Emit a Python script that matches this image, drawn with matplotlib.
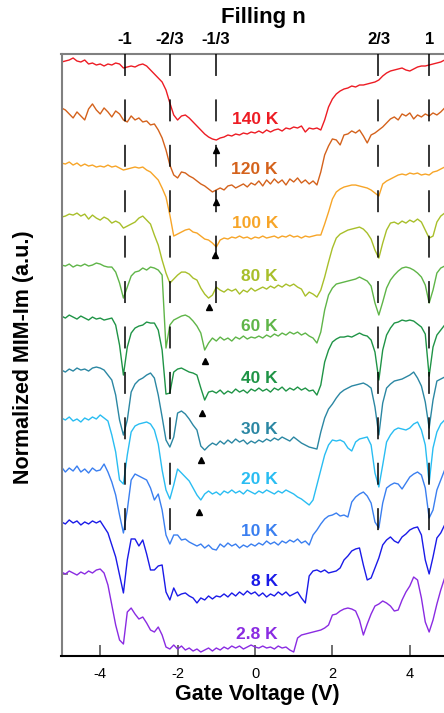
import numpy as np
import matplotlib.pyplot as plt

plt.rcParams['font.family'] = ['Liberation Sans', 'DejaVu Sans']
plt.rcParams['lines.scale_dashes'] = False

# gate voltage sampling (V)
gate_v = np.round(np.arange(-5.0, 4.95, 0.1), 1)

temps = ['140 K', '120 K', '100 K', '80 K', '60 K', '40 K', '30 K', '20 K', '10 K', '8 K', '2.8 K']
colors = ['#ed1c24', '#d4621c', '#f7a528', '#a8bf2a', '#5fb548', '#1f9446',
          '#2b87a3', '#29bdf2', '#3a7ff0', '#1a1ae8', '#8a2be2']

# MIM-Im signal (a.u., relative to the charge-neutral plateau of each trace)
sig_140 = [71, 72, 73, 75, 72, 71, 73, 69, 70, 68,
           69, 67, 69, 68, 70, 69, 65, 66, 67, 66,
           68, 69, 67, 63, 59, 55, 51, 43, 30, 18,
           13, 17, 18, 15, 11, 7, 3, -1, -4, -6,
           -7, -5, -4, -2, -3, -1, -2, 0, -1, 1,
           0, 2, 0, 3, 1, 3, 4, 2, 5, 4,
           6, 5, 7, 1, 5, 4, 5, 3, 13, 26,
           34, 39, 42, 44, 45, 47, 46, 48, 48, 49,
           50, 51, 53, 57, 60, 62, 63, 64, 65, 63,
           62, 64, 66, 67, 67, 68, 69, 70, 71, 73]
sig_120 = [75, 73, 69, 65, 71, 67, 63, 74, 79, 73,
           69, 75, 71, 66, 72, 69, 63, 61, 67, 63,
           65, 61, 62, 58, 59, 53, 45, 33, 18, 8,
           5, 11, 10, 7, 5, 2, -1, -3, -6, -9,
           -7, -5, -7, -3, -2, -5, -3, -1, -4, 0,
           -2, 2, -3, 3, -1, 4, 0, 3, -2, 4,
           1, 5, 0, 3, -1, 2, -2, 11, 28, 37,
           44, 43, 38, 48, 49, 52, 50, 53, 47, 40,
           48, 50, 53, 56, 60, 64, 66, 63, 69, 67,
           70, 64, 68, 66, 69, 67, 70, 68, 71, 75]
sig_100 = [74, 73, 75, 72, 74, 71, 73, 71, 72, 70,
           71, 70, 72, 70, 71, 69, 67, 68, 69, 70,
           69, 70, 67, 65, 61, 57, 49, 40, 22, 1,
           3, 5, 7, 8, 5, 4, 1, -2, -3, -6,
           -10, -3, -1, -2, 0, -1, 1, -1, 0, -2,
           0, -1, 1, -1, 0, 1, -1, 1, 0, 2,
           0, 1, -1, 1, 0, 1, 2, 2, 13, 25,
           38, 45, 48, 50, 51, 52, 52, 51, 50, 49,
           47, 44, 41, 53, 56, 58, 60, 62, 63, 62,
           64, 63, 64, 62, 63, 62, 65, 66, 68, 70]
sig_80 = [73, 74, 76, 75, 77, 74, 76, 71, 75, 72,
          70, 73, 71, 67, 69, 67, 62, 64, 66, 68,
          72, 74, 70, 66, 55, 45, 30, 17, 7, 11,
          15, 18, 18, 16, 12, 10, 2, -4, -8, -5,
          3, 0, -2, 1, -1, 1, -4, 0, -2, 2,
          -1, 1, 3, 1, 4, 2, 5, 3, 6, 4,
          6, 3, 1, -6, -2, -4, -7, 0, 13, 28,
          42, 52, 56, 58, 60, 61, 62, 63, 61, 57,
          51, 40, 32, 47, 60, 67, 68, 66, 69, 67,
          70, 68, 71, 68, 60, 52, 54, 68, 74, 77]
sig_60 = [75, 74, 76, 73, 75, 74, 76, 74, 75, 77,
          76, 74, 73, 73, 68, 57, 42, 53, 64, 68,
          69, 72, 70, 73, 72, 70, 65, -8, 15, 20,
          22, 24, 25, 23, 19, 14, 7, -10, -3, 2,
          -1, 3, 0, 2, -1, 3, 1, 4, 1, 3,
          2, 4, 2, 5, 3, 6, 4, 7, 5, 8,
          6, 8, 5, 7, 4, 2, -3, 8, 30, 45,
          52, 56, 57, 58, 59, 60, 61, 63, 61, 59,
          54, 37, 25, 38, 52, 60, 65, 69, 72, 73,
          72, 70, 67, 63, 55, 37, 50, 67, 72, 74]
sig_40 = [76, 74, 77, 75, 73, 76, 74, 72, 75, 73,
          74, 72, 73, 74, 67, 47, 17, 45, 59, 64,
          66, 67, 70, 69, 69, 62, 42, -2, -1, 20,
          23, 24, 22, 20, 19, 17, 4, -8, 0, 1,
          -1, 2, -2, 1, -1, 3, 0, 2, -1, 3,
          1, 4, 1, 3, 0, 4, 2, 5, 1, 4,
          2, 5, 2, 4, 1, 2, -3, 7, 30, 42,
          50, 53, 55, 55, 56, 55, 57, 59, 57, 56,
          52, 40, 12, 42, 57, 64, 69, 70, 72, 71,
          72, 71, 68, 65, 58, 16, 45, 57, 62, 67]
sig_30 = [73, 71, 74, 72, 75, 73, 74, 72, 75, 76,
          75, 73, 68, 63, 48, 23, 8, 23, 51, 59,
          63, 65, 68, 70, 65, 48, 26, 3, -4, 6,
          30, 32, 29, 24, 18, 13, -3, -7, -3, 0,
          -2, 2, -1, 3, 0, 4, 1, 3, -1, 2,
          0, 3, 1, 4, 2, 5, 3, 6, 4, 2,
          6, 3, 0, -2, -4, -5, -6, 11, 25, 34,
          39, 45, 50, 53, 55, 57, 58, 59, 60, 58,
          55, 36, 8, 40, 55, 59, 62, 63, 64, 66,
          68, 71, 65, 57, 41, 15, 43, 62, 64, 66]
sig_20 = [75, 73, 76, 72, 74, 71, 75, 73, 76, 74,
          78, 75, 72, 58, 41, 13, 9, 38, 61, 67,
          69, 70, 71, 69, 63, 49, 23, 3, -6, 8,
          24, 20, 16, 12, 5, -2, -7, -1, 2, -1,
          1, -2, 2, 0, 3, 0, 2, -1, 3, 1,
          -1, 2, 0, 3, 1, -1, 2, 0, 3, 1,
          -1, -4, -6, -9, -12, -7, 8, 23, 38, 48,
          53, 52, 53, 51, 45, 42, 51, 54, 55, 56,
          48, 20, 6, 28, 51, 58, 63, 65, 64, 63,
          65, 69, 71, 63, 48, 10, 45, 61, 69, 73]
sig_10 = [78, 73, 77, 74, 79, 73, 76, 72, 77, 74,
          75, 81, 73, 63, 50, 30, 12, 35, 65, 71,
          69, 67, 65, 57, 45, 51, 35, 10, 1, 10,
          10, 5, 6, 3, 1, -1, 1, -3, 0, -4,
          -5, 1, -2, 2, -1, 1, -3, 0, -2, 1,
          -1, 2, 0, 4, 1, 3, 0, 4, 2, 5,
          3, 6, 2, 4, 0, 10, 15, 21, 26, 29,
          30, 32, 29, 30, 28, 43, 48, 51, 53, 49,
          42, 23, 17, 42, 57, 60, 62, 61, 56, 62,
          68, 71, 73, 70, 57, 27, 35, 55, 65, 75]
sig_8 = [73, 71, 75, 72, 74, 70, 73, 71, 74, 72,
         74, 68, 62, 50, 38, 20, 2, 35, 56, 56,
         49, 55, 41, 25, 25, 29, 30, 3, -5, 7,
         -1, 1, 2, -1, -3, -8, -3, -5, -1, -4,
         -1, -2, 1, -2, 2, -1, 3, 0, 4, 1,
         3, -1, 2, -2, 1, -1, 3, 0, 3, -1,
         1, 3, -3, -8, 19, 24, 25, 23, 25, 22,
         23, 24, 27, 35, 39, 44, 46, 47, 30, 15,
         17, 27, 37, 50, 55, 58, 54, 52, 58, 61,
         65, 67, 68, 60, 35, 21, 38, 57, 62, 70]
sig_2p8 = [76, 74, 77, 75, 73, 76, 74, 77, 75, 78,
           79, 75, 63, 43, 23, 8, 4, 36, 40, 34,
           29, 31, 25, 18, 16, 21, 13, 1, -1, 3,
           -1, 2, -2, 0, -3, -1, -4, -2, 0, -3,
           0, -2, 1, -1, 2, 0, 2, -1, 1, 3,
           1, 0, 2, 0, 1, -1, 2, 0, 1, -2,
           -4, 10, 13, 14, 15, 16, 17, 18, 20, 23,
           33, 34, 37, 39, 40, 39, 37, 28, 13, 24,
           34, 42, 44, 47, 45, 42, 37, 38, 48, 56,
           62, 71, 68, 50, 26, 16, 28, 44, 58, 70]

signals = [sig_140, sig_120, sig_100, sig_80, sig_60, sig_40,
           sig_30, sig_20, sig_10, sig_8, sig_2p8]
offsets = [10.0, 9.03, 7.98, 6.95, 5.98, 4.97, 3.98, 3.01, 2.0, 1.03, 0.0]
scale = 51.5

# fractional fillings on top axis
filling_v = [-3.37, -2.196, -1.016, 3.19, 4.50]
filling_lbl = ['-1', '-2/3', '-1/3', '2/3', '1']

# arrows marking the -1/3 state
arrow_v = [-1.01, -1.01, -1.03, -1.19, -1.29, -1.37, -1.40, -1.45]
arrow_y = [9.67, 8.66, 7.63, 6.62, 5.57, 4.56, 3.65, 2.64]

fig = plt.figure(figsize=(4.44, 7.13), dpi=100)
ax = fig.add_axes([61.5 / 444, 1 - 656 / 713, 387 / 444, 602 / 713])

for sig, off, col in zip(signals, offsets, colors):
    assert len(sig) == len(gate_v)
    ax.plot(gate_v, off + np.array(sig) / scale, color=col, lw=1.0, zorder=2)

for t, off, col in zip(temps, offsets, colors):
    ax.text(0.594, off + 0.18, t, color=col, fontsize=12.5, fontweight='bold',
            ha='right', va='baseline')

ytop = 11.534
for v, lbl in zip(filling_v, filling_lbl):
    ybot = 6.66 if lbl == '-1/3' else 2.233
    ax.plot([v, v], [ytop, ybot], color='black', lw=1.1, dashes=(15.8, 16.9), zorder=3)
    ax.text(v, 1.0166, lbl, transform=ax.get_xaxis_transform(), ha='center',
            va='baseline', fontsize=12, fontweight='bold')

ax.plot(arrow_v, arrow_y, linestyle='none', marker='^', color='black', markersize=4.8, zorder=4)

ax.set_xlim(-5, 5)
ax.set_ylim(-0.155, ytop)
ax.set_xticks([-4, -2, 0, 2, 4])
ax.set_xticklabels(['-4', '-2', '0', '2', '4'], fontsize=10.5)
ax.tick_params(axis='x', direction='in', length=8, width=1.2, color='#555555', pad=8)
ax.set_yticks([1.437])
ax.set_yticklabels([])
ax.tick_params(axis='y', direction='in', length=4, width=1.2, color='#777777')
ax.spines['right'].set_visible(False)
ax.spines['left'].set_color('#808080')
ax.spines['top'].set_color('#808080')
ax.spines['left'].set_linewidth(1.5)
ax.spines['top'].set_linewidth(1.5)
ax.spines['bottom'].set_linewidth(1.5)

fig.text(263 / 444, 1 - 23 / 713, 'Filling n', ha='center', va='baseline',
         fontsize=16, fontweight='bold')
fig.text(257 / 444, 1 - 700 / 713, 'Gate Voltage (V)', ha='center', va='baseline',
         fontsize=15.5, fontweight='bold')
fig.text(24 / 444, 0.4986, 'Normalized MIM-Im (a.u.)', rotation=90, ha='center',
         va='center', fontsize=15.5, fontweight='bold')

fig.savefig('out.png', dpi=100)
